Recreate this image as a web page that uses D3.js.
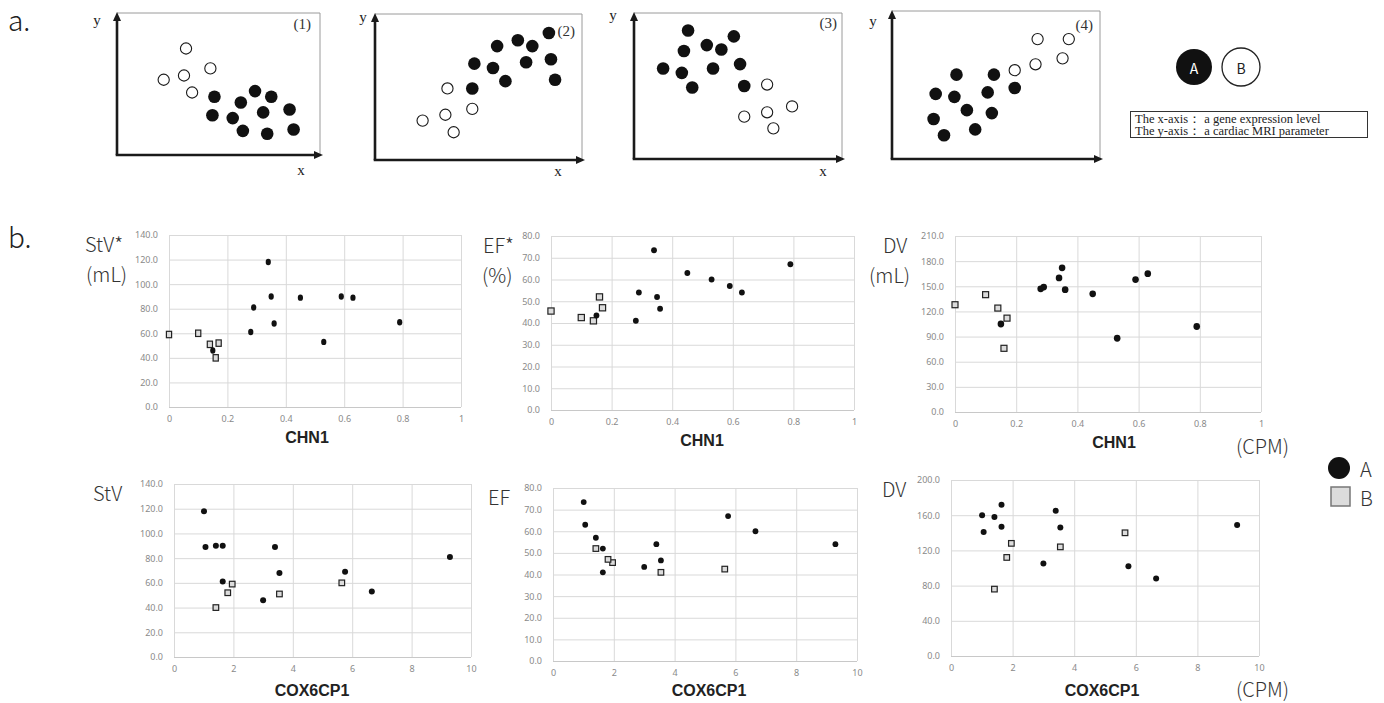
<!DOCTYPE html>
<html>
<head>
<meta charset="utf-8">
<script src="https://cdn.jsdelivr.net/npm/d3@7"></script>
<style>
    body { margin: 0; background: #fff; }
    svg { display: block; }
</style>
</head>
<body>
<svg id="fig" width="1384" height="703"></svg>
<script>

// ---- panel b data : one entry per subject ----
var groupA_CHN1    = [0.34, 0.45, 0.59, 0.35, 0.28, 0.15, 0.63, 0.36, 0.79, 0.53, 0.29];
var groupA_COX6CP1 = [1.01, 1.06, 1.41, 1.64, 1.64, 3.00, 3.40, 3.55, 5.76, 6.66, 9.29];
var groupA_StV     = [118, 89, 90, 90, 61, 46, 89, 68, 69, 53, 81];
var groupA_EF      = [73.5, 63, 57, 52, 41, 43.5, 54, 46.5, 67, 60, 54];
var groupA_DV      = [160, 141, 158, 172, 147, 105, 165, 146, 102, 88, 149];

var groupB_CHN1    = [0.00, 0.10, 0.14, 0.17, 0.16];
var groupB_COX6CP1 = [1.96, 5.65, 3.55, 1.81, 1.41];
var groupB_StV     = [59, 60, 51, 52, 40];
var groupB_EF      = [45.5, 42.5, 41, 47, 52];
var groupB_DV      = [128, 140, 124, 112, 76];

// ---- panel a schematic data : [x, y] on a 0-100 scale inside each box ----
var scheme1Open   = [[34, 75], [23, 53], [33, 56], [46, 61], [37, 44]];
var scheme1Filled = [[48, 41], [47, 28], [61, 37], [68, 45], [76, 41], [57, 26], [72, 30], [85, 32], [62, 17], [74, 15], [87, 18]];
var scheme2Open   = [[23, 27], [35, 49], [34, 31], [38, 19], [47, 35]];
var scheme2Filled = [[47, 49], [48, 66], [57, 63], [59, 78], [63, 54], [69, 82], [76, 78], [73, 67], [84, 87], [85, 69], [87, 55]];
var scheme3Open   = [[64, 51], [76, 36], [64, 32], [53, 29], [67, 21]];
var scheme3Filled = [[26, 88], [24, 74], [35, 78], [42, 75], [48, 84], [14, 62], [23, 59], [38, 62], [51, 65], [28, 49], [53, 50]];
var scheme4Open   = [[70, 81], [85, 81], [69, 64], [82, 68], [59, 60]];
var scheme4Filled = [[31, 57], [49, 57], [21, 44], [30, 42], [46, 45], [59, 48], [36, 33], [20, 27], [48, 31], [25, 16], [40, 20]];

var groupNames = ["A", "B"];
var axisNote = ["The  x-axis\uff1a a gene expression level", "The  y-axis\uff1a a cardiac MRI parameter"];

var lightFont = "'Noto Sans CJK JP', 'Noto Sans', sans-serif";
var boldFont = "'Liberation Sans', Arial, sans-serif";
var serifFont = "'Liberation Serif', 'DejaVu Serif', serif";
var tickFont = "'Liberation Sans Narrow', 'Noto Sans', sans-serif";

var svg = d3.select("#fig");

function pairs(xs, ys) {
    return xs.map(function (v, i) { return {x: v, y: ys[i]}; });
}

// ================= panel a =================

function drawSchematic(box, filled, open, num, showX) {
    var g = svg.append("g");
    var x = d3.scaleLinear().domain([0, 100]).range([box.left, box.right]);
    var y = d3.scaleLinear().domain([0, 100]).range([box.bottom, box.top]);

    // thin grey frame, top and right only
    g.append("path")
        .attr("d", "M" + box.left + "," + box.top + "H" + box.right + "V" + box.bottom)
        .attr("fill", "none").attr("stroke", "#9a9a9a").attr("stroke-width", 1);

    // thick axes with arrow heads
    g.append("line").attr("x1", box.left).attr("y1", box.bottom).attr("x2", box.left).attr("y2", box.top + 6)
        .attr("stroke", "#1a1a1a").attr("stroke-width", 2.6);
    g.append("line").attr("x1", box.left - 1.3).attr("y1", box.bottom).attr("x2", box.right - 4).attr("y2", box.bottom)
        .attr("stroke", "#1a1a1a").attr("stroke-width", 2.6);
    g.append("path")
        .attr("d", "M" + box.left + "," + (box.top - 1) + "L" + (box.left - 4) + "," + (box.top + 8) + "L" + (box.left + 4) + "," + (box.top + 8) + "Z")
        .attr("fill", "#1a1a1a");
    g.append("path")
        .attr("d", "M" + (box.right + 3) + "," + box.bottom + "L" + (box.right - 6) + "," + (box.bottom - 4) + "L" + (box.right - 6) + "," + (box.bottom + 4) + "Z")
        .attr("fill", "#1a1a1a");

    g.selectAll("circle.open").data(open).enter().append("circle")
        .attr("class", "open")
        .attr("cx", function (d) { return x(d[0]); })
        .attr("cy", function (d) { return y(d[1]); })
        .attr("r", 5.6)
        .attr("fill", "#fff").attr("stroke", "#1a1a1a").attr("stroke-width", 1.1);

    g.selectAll("circle.filled").data(filled).enter().append("circle")
        .attr("class", "filled")
        .attr("cx", function (d) { return x(d[0]); })
        .attr("cy", function (d) { return y(d[1]); })
        .attr("r", 6.3)
        .attr("fill", "#111");

    g.append("text").text("y")
        .attr("x", box.yLabel[0]).attr("y", box.yLabel[1])
        .attr("font-family", serifFont).attr("font-size", 15).attr("fill", "#222")
        .attr("text-anchor", "middle").attr("dominant-baseline", "central");
    if (showX) {
        g.append("text").text("x")
            .attr("x", box.xLabel[0]).attr("y", box.xLabel[1])
            .attr("font-family", serifFont).attr("font-size", 15).attr("fill", "#222")
            .attr("text-anchor", "middle").attr("dominant-baseline", "central");
    }
    g.append("text").text("(" + num + ")")
        .attr("x", box.numPos[0]).attr("y", box.numPos[1])
        .attr("font-family", serifFont).attr("font-size", 15).attr("fill", "#333")
        .attr("text-anchor", "end").attr("dominant-baseline", "central");
}

svg.append("text").text("a.")
    .attr("x", 8).attr("y", 31)
    .attr("font-family", lightFont).attr("font-weight", 300).attr("font-size", 28).attr("fill", "#222");

drawSchematic({left: 117, right: 320, top: 13, bottom: 155, yLabel: [97, 20], xLabel: [301, 170], numPos: [311, 24]},
    scheme1Filled, scheme1Open, 1, true);
drawSchematic({left: 375, right: 582, top: 14, bottom: 160, yLabel: [363, 17], xLabel: [558, 171], numPos: [575, 31]},
    scheme2Filled, scheme2Open, 2, true);
drawSchematic({left: 634, right: 842, top: 13, bottom: 159, yLabel: [613, 15], xLabel: [823, 171], numPos: [837, 23]},
    scheme3Filled, scheme3Open, 3, true);
drawSchematic({left: 892, right: 1100, top: 11, bottom: 159, yLabel: [873, 21], xLabel: [0, 0], numPos: [1093, 25]},
    scheme4Filled, scheme4Open, 4, false);

// legend of panel a
var legA = svg.append("g");
legA.append("circle").attr("cx", 1194).attr("cy", 67).attr("r", 18).attr("fill", "#111");
legA.append("circle").attr("cx", 1241).attr("cy", 67).attr("r", 19)
    .attr("fill", "#fff").attr("stroke", "#222").attr("stroke-width", 1.3);
legA.selectAll("text.grp").data(groupNames).enter().append("text")
    .attr("class", "grp")
    .text(function (d) { return d; })
    .attr("x", function (d, i) { return i == 0 ? 1194 : 1241; })
    .attr("y", 68)
    .attr("fill", function (d, i) { return i == 0 ? "#fff" : "#222"; })
    .attr("font-family", lightFont).attr("font-size", 14)
    .attr("text-anchor", "middle").attr("dominant-baseline", "central");

legA.append("rect").attr("x", 1130.5).attr("y", 111.5).attr("width", 237).attr("height", 26)
    .attr("fill", "none").attr("stroke", "#333").attr("stroke-width", 1);
legA.selectAll("text.note").data(axisNote).enter().append("text")
    .attr("class", "note")
    .text(function (d) { return d; })
    .attr("x", 1135)
    .attr("y", function (d, i) { return 122.5 + i * 12; })
    .attr("font-family", serifFont).attr("font-size", 12.5).attr("fill", "#222");

// ================= panel b =================

var dataA = {CHN1: groupA_CHN1, COX6CP1: groupA_COX6CP1, StV: groupA_StV, EF: groupA_EF, DV: groupA_DV};
var dataB = {CHN1: groupB_CHN1, COX6CP1: groupB_COX6CP1, StV: groupB_StV, EF: groupB_EF, DV: groupB_DV};

var panels = [
    {gene: "CHN1", param: "StV", xMax: 1, yMax: 140, yStep: 20, left: 169, right: 461, top: 235, bottom: 407,
        yLabel: ["StV*", "(mL)"], labelX: [85, 86], rx: 2.6, ry: 3.2, sq: [5.2, 6.4], titleX: 307},
    {gene: "CHN1", param: "EF", xMax: 1, yMax: 80, yStep: 10, left: 551, right: 854, top: 236, bottom: 410,
        yLabel: ["EF*", "(%)"], labelX: [483, 482], rx: 2.9, ry: 3, sq: [6.2, 6.2], titleX: 702},
    {gene: "CHN1", param: "DV", xMax: 1, yMax: 210, yStep: 30, left: 955, right: 1261, top: 236, bottom: 412,
        yLabel: ["DV", "(mL)"], labelX: [883, 869], rx: 3.3, ry: 3.4, sq: [6, 6], titleX: 1114},
    {gene: "COX6CP1", param: "StV", xMax: 10, yMax: 140, yStep: 20, left: 174, right: 471, top: 484, bottom: 657,
        yLabel: ["StV"], labelX: [93], rx: 3, ry: 3, sq: [5.6, 5.6], titleX: 312},
    {gene: "COX6CP1", param: "EF", xMax: 10, yMax: 80, yStep: 10, left: 553, right: 857, top: 488, bottom: 661,
        yLabel: ["EF"], labelX: [488], rx: 2.9, ry: 2.9, sq: [5.6, 5.6], titleX: 709},
    {gene: "COX6CP1", param: "DV", xMax: 10, yMax: 200, yStep: 40, left: 951, right: 1259, top: 480, bottom: 656,
        yLabel: ["DV"], labelX: [882], rx: 3, ry: 3, sq: [5.6, 5.6], titleX: 1102}
];

function drawScatter(p) {
    var g = svg.append("g");
    var x = d3.scaleLinear().domain([0, p.xMax]).range([p.left, p.right]);
    var y = d3.scaleLinear().domain([0, p.yMax]).range([p.bottom, p.top]);
    var w = p.right - p.left, h = p.bottom - p.top;

    var yAxis = g.append("g")
        .attr("transform", "translate(" + p.left + ",0)")
        .call(d3.axisLeft(y).tickValues(d3.range(0, p.yMax + 1, p.yStep)).tickFormat(d3.format(".1f"))
            .tickSize(-w).tickPadding(11));
    var xAxis = g.append("g")
        .attr("transform", "translate(0," + p.bottom + ")")
        .call(d3.axisBottom(x).tickValues(x.ticks(5)).tickFormat(d3.format("~g"))
            .tickSize(-h).tickPadding(9));

    [yAxis, xAxis].forEach(function (ax) {
        ax.select(".domain").remove();
        ax.selectAll(".tick line").attr("stroke", "#d9d9d9").attr("stroke-width", 1);
        ax.selectAll(".tick text").attr("fill", "#8a8a8a")
            .attr("font-family", tickFont).attr("font-size", 9);
    });
    // bottom edge slightly darker
    g.append("line").attr("x1", p.left).attr("x2", p.right).attr("y1", p.bottom + 0.5).attr("y2", p.bottom + 0.5)
        .attr("stroke", "#c8c8c8");

    g.selectAll("rect.ptB").data(pairs(dataB[p.gene], dataB[p.param])).enter().append("rect")
        .attr("class", "ptB")
        .attr("x", function (d) { return x(d.x) - p.sq[0] / 2; })
        .attr("y", function (d) { return y(d.y) - p.sq[1] / 2; })
        .attr("width", p.sq[0]).attr("height", p.sq[1])
        .attr("fill", "#dcdcdc").attr("stroke", "#222").attr("stroke-width", 1.2);

    g.selectAll("ellipse.ptA").data(pairs(dataA[p.gene], dataA[p.param])).enter().append("ellipse")
        .attr("class", "ptA")
        .attr("cx", function (d) { return x(d.x); })
        .attr("cy", function (d) { return y(d.y); })
        .attr("rx", p.rx).attr("ry", p.ry)
        .attr("fill", "#111");

    // gene name under the plot
    g.append("text").text(p.gene)
        .attr("x", p.titleX).attr("y", p.gene == "CHN1" ? p.bottom + 30 : 690)
        .attr("font-family", boldFont).attr("font-weight", 700)
        .attr("font-size", 16).attr("fill", "#222")
        .attr("text-anchor", "middle").attr("dominant-baseline", "central");

    // MRI parameter, with unit on a second line
    g.selectAll("text.ylab").data(p.yLabel).enter().append("text")
        .attr("class", "ylab")
        .text(function (d) { return d; })
        .attr("x", function (d, i) { return p.labelX[i]; })
        .attr("y", function (d, i) { return p.top + 8 + i * 30; })
        .attr("font-family", lightFont).attr("font-weight", 300).attr("font-size", 20).attr("fill", "#333")
        .attr("dominant-baseline", "central");
}

svg.append("text").text("b.")
    .attr("x", 8).attr("y", 248)
    .attr("font-family", lightFont).attr("font-weight", 300).attr("font-size", 28).attr("fill", "#222");

panels.forEach(drawScatter);

// unit of the gene expression axes
[445, 688].forEach(function (yy) {
    svg.append("text").text("(CPM)")
        .attr("x", 1236).attr("y", yy)
        .attr("font-family", lightFont).attr("font-weight", 300).attr("font-size", 20).attr("fill", "#333")
        .attr("dominant-baseline", "central");
});

// legend of panel b
var legB = svg.append("g");
legB.append("circle").attr("cx", 1339).attr("cy", 468).attr("r", 11).attr("fill", "#111");
legB.append("rect").attr("x", 1331).attr("y", 487).attr("width", 19).attr("height", 19)
    .attr("fill", "#dcdcdc").attr("stroke", "#777").attr("stroke-width", 1.5);
legB.selectAll("text").data(groupNames).enter().append("text")
    .text(function (d) { return d; })
    .attr("x", 1360)
    .attr("y", function (d, i) { return 468 + i * 29; })
    .attr("font-family", lightFont).attr("font-weight", 300).attr("font-size", 20).attr("fill", "#333")
    .attr("dominant-baseline", "central");

</script>
</body>
</html>
